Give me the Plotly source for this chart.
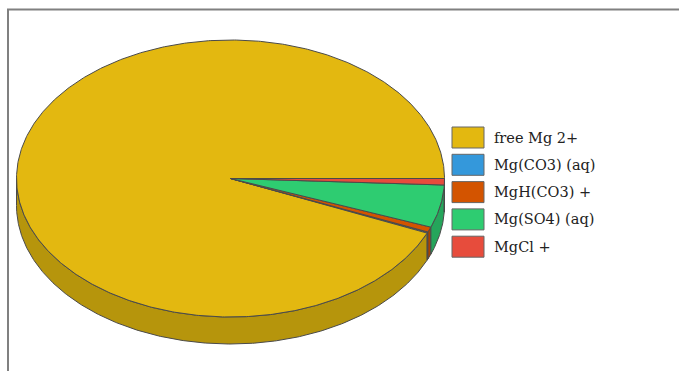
import numpy as np
import plotly.graph_objects as go

# Magnesium speciation (% of total Mg)
labels = ["free Mg 2+", "Mg(CO3) (aq)", "MgH(CO3) +", "Mg(SO4) (aq)", "MgCl +"]
values = [93.55, 0.14, 0.60, 4.96, 0.75]
colors = ["#e3b810", "#3498db", "#d35400", "#2ecc71", "#e74c3c"]
side_colors = ["#b6950c", "#2a7ab2", "#a84300", "#25a55b", "#b93d30"]

# Ellipse geometry in pixel space
CX, CY = 230.5, 178.5
RX, RY = 214.0, 138.5
DEPTH = 27.0
EDGE = "#4a4a4a"

fig = go.Figure()


def arc(a0, a1, n=None):
    n = n or max(3, int(abs(a1 - a0) * 2) + 2)
    th = np.radians(np.linspace(a0, a1, n))
    return CX + RX * np.cos(th), CY - RY * np.sin(th)


# slice angular ranges, counter-clockwise from 3 o'clock
total = sum(values)
bounds = np.concatenate([[0], np.cumsum(values) / total * 360.0])

# side walls (lower half only)
for i in range(len(values)):
    a0, a1 = bounds[i], bounds[i + 1]
    lo, hi = max(a0, 180.0), min(a1, 360.0)
    if hi <= lo:
        continue
    x, y = arc(lo, hi)
    xs = np.concatenate([x, x[::-1], x[:1]])
    ys = np.concatenate([y, y[::-1] + DEPTH, y[:1]])
    fig.add_trace(go.Scatter(x=xs, y=ys, mode="lines", fill="toself",
                             fillcolor=side_colors[i],
                             line=dict(color=EDGE, width=1),
                             hoverinfo="skip", showlegend=False))

# top faces
for i in range(len(values)):
    a0, a1 = bounds[i], bounds[i + 1]
    x, y = arc(a0, a1)
    xs = np.concatenate([[CX], x, [CX]])
    ys = np.concatenate([[CY], y, [CY]])
    fig.add_trace(go.Scatter(x=xs, y=ys, mode="lines", fill="toself",
                             fillcolor=colors[i],
                             line=dict(color=EDGE, width=1),
                             name=labels[i], hoverinfo="name", showlegend=False))

# outer frame
shapes = [dict(type="rect", xref="x", yref="y", x0=8, y0=9.5, x1=700, y1=400,
               line=dict(color="#808080", width=2), fillcolor="rgba(0,0,0,0)")]

# legend
annotations = []
LX0, LX1, LY0, BOX_H, STEP = 452, 484, 127, 21, 27.3
for i, lab in enumerate(labels):
    y0 = LY0 + i * STEP
    shapes.append(dict(type="rect", xref="x", yref="y", x0=LX0, x1=LX1,
                       y0=y0, y1=y0 + BOX_H, fillcolor=colors[i],
                       line=dict(color="#666666", width=1)))
    annotations.append(dict(x=492, y=y0 + BOX_H / 2, xref="x", yref="y",
                            text=lab, showarrow=False, xanchor="left",
                            yanchor="middle",
                            font=dict(family="DejaVu Serif", size=14.5,
                                      color="#222222")))

fig.update_layout(
    width=679, height=371,
    margin=dict(l=0, r=0, t=0, b=0),
    paper_bgcolor="white", plot_bgcolor="white",
    xaxis=dict(range=[0, 679], visible=False, fixedrange=True),
    yaxis=dict(range=[371, 0], visible=False, fixedrange=True),
    shapes=shapes, annotations=annotations,
    showlegend=False,
)

fig.write_html("out.html")
